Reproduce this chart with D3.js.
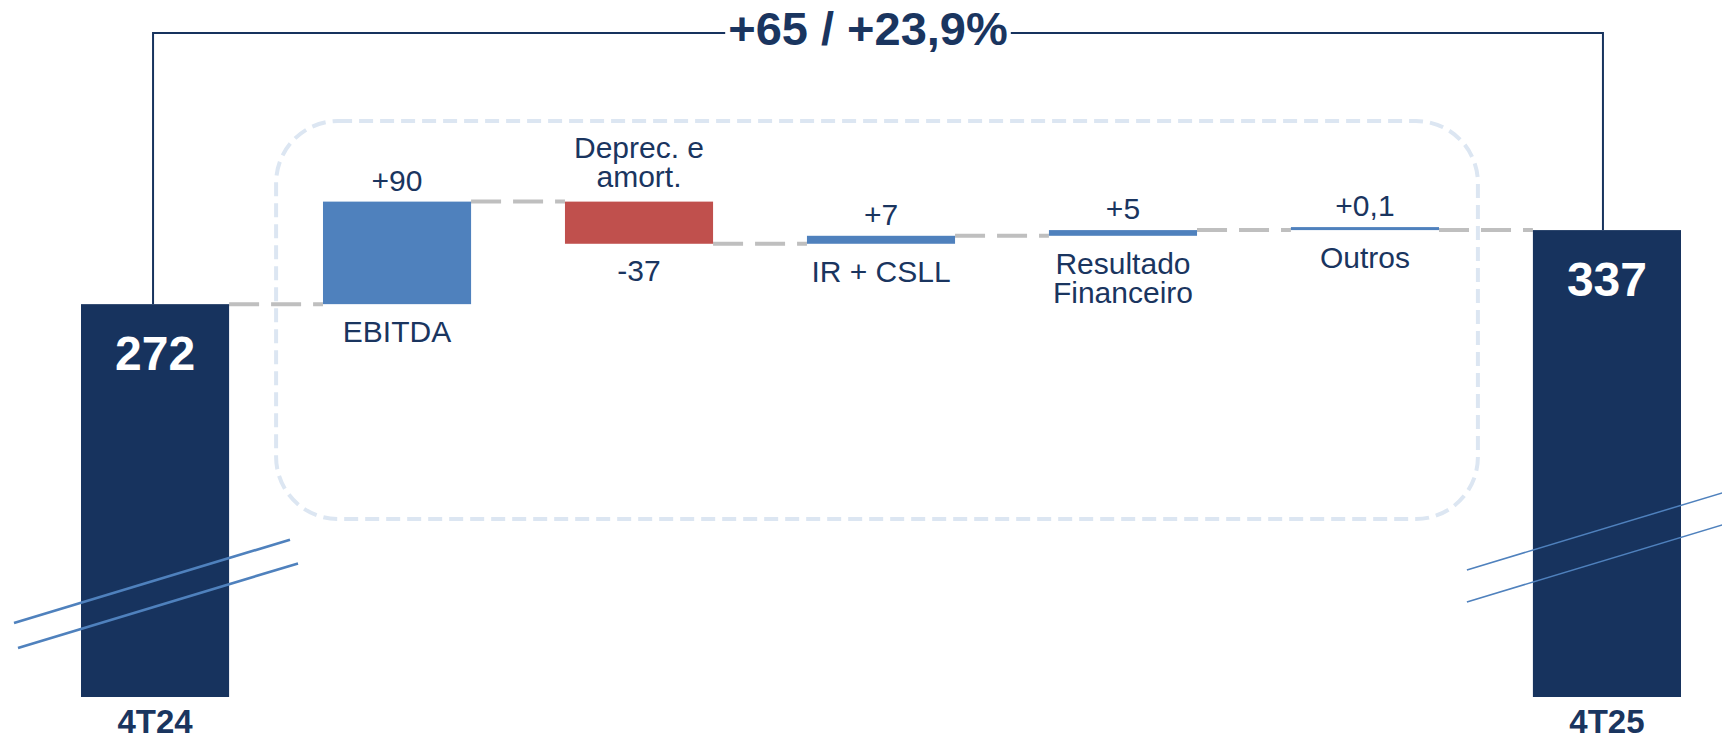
<!DOCTYPE html>
<html>
<head>
<meta charset="utf-8">
<script src="https://cdn.jsdelivr.net/npm/d3@7"></script>
<style>
  body { margin: 0; background: #fff; }
</style>
</head>
<body>
<script>
// Data (R$ mi)
const categories = ["4T24", "EBITDA", "Deprec. e amort.", "IR + CSLL", "Resultado Financeiro", "Outros", "4T25"];
const labelLines = [["4T24"], ["EBITDA"], ["Deprec. e", "amort."], ["IR + CSLL"], ["Resultado", "Financeiro"], ["Outros"], ["4T25"]];
const startValue = 272;
const endValue = 337;
const deltas = [90, -37, 7, 5, 0.1];

const width = 1722;
const height = 739;
const navy = "#17335e";
const textColor = "#1a355f";
const up = "#4f81bd";
const down = "#c0504d";
const font = "'Liberation Sans', Arial, sans-serif";

// build the waterfall rows
let run = startValue;
const rows = categories.map((c, i) => {
  if (i === 0) return {cat: c, i, type: "total", from: 0, to: startValue, value: startValue};
  if (i === categories.length - 1) return {cat: c, i, type: "total", from: 0, to: endValue, value: endValue};
  const v = deltas[i - 1];
  const r = {cat: c, i, type: v >= 0 ? "up" : "down", from: run, to: run + v, value: v};
  run += v;
  return r;
});

const loc = d3.formatLocale({decimal: ",", thousands: ".", grouping: [3], currency: ["R$", ""], minus: "-"});
const fmtDelta = loc.format("+~g");
const fmtPct = loc.format("+.1f");

// scales (y axis is broken below 230)
const x = d3.scaleBand()
  .domain(categories)
  .range([81, 1681])
  .paddingInner(0.388)
  .paddingOuter(0);

const y = d3.scaleLinear()
  .domain([0, 230, 370])
  .range([697, 352, 192.5]);

const svg = d3.select("body").append("svg")
  .attr("width", width)
  .attr("height", height)
  .attr("viewBox", [0, 0, width, height])
  .style("font-family", font);

const bw = x.bandwidth();
const cx = c => x(c) + bw / 2;

// dashed rounded frame round the drivers
svg.append("rect")
  .attr("x", x(categories[0]) + bw + 47)
  .attr("y", 121)
  .attr("width", (x(categories[6]) - 55) - (x(categories[0]) + bw + 47))
  .attr("height", 398)
  .attr("rx", 62)
  .attr("fill", "none")
  .attr("stroke", "#dce6f2")
  .attr("stroke-width", 4)
  .attr("stroke-dasharray", "14,7");

// bracket with the total variation
const diff = endValue - startValue;
const title = svg.append("text")
  .attr("x", (cx(categories[0]) + cx(categories[6])) / 2 - 13)
  .attr("y", 45)
  .attr("text-anchor", "middle")
  .attr("fill", textColor)
  .style("font-size", "47px")
  .style("font-weight", "bold")
  .text(`${fmtDelta(diff)} / ${fmtPct(diff / startValue * 100)}%`);
const tb = title.node().getBBox();
const bracketY = 33;
svg.append("path")
  .attr("fill", "none")
  .attr("stroke", navy)
  .attr("stroke-width", 2)
  .attr("d", `M${cx(categories[0]) - 2},${y(startValue)}V${bracketY}H${tb.x - 3}`
    + `M${tb.x + tb.width + 3},${bracketY}H${cx(categories[6]) - 4}V${y(endValue)}`);

// connectors between bars
const links = rows.slice(0, -1).map((d, i) => ({x1: x(d.cat) + bw, x2: x(rows[i + 1].cat), level: d.to}));
svg.append("g")
  .attr("stroke", "#bfbfbf")
  .attr("stroke-width", 4)
  .attr("stroke-dasharray", "30,12")
  .selectAll("line")
  .data(links)
  .join("line")
  .attr("x1", d => d.x1)
  .attr("x2", d => d.x2)
  .attr("y1", d => y(d.level))
  .attr("y2", d => y(d.level));

// bars
const barTop = d => {
  const t = Math.min(y(d.from), y(d.to));
  const b = Math.max(y(d.from), y(d.to));
  return b - t < 3 ? b - 3 : t;
};
const barBottom = d => Math.max(y(d.from), y(d.to));

svg.append("g")
  .selectAll("rect")
  .data(rows)
  .join("rect")
  .attr("x", d => x(d.cat))
  .attr("y", barTop)
  .attr("width", bw)
  .attr("height", d => barBottom(d) - barTop(d))
  .attr("fill", d => d.type === "total" ? navy : d.type === "up" ? up : down);

// axis break marks over the total bars
const breaks = [
  {cat: categories[0], dx0: -67, dx1: 209, y0: 623, gap: 25, shift: 4, w: 2.6},
  {cat: categories[6], dx0: -66, dx1: 260, y0: 570, gap: 32, shift: 0, w: 1.5}
];
const slope = -0.302;
svg.append("g")
  .attr("stroke", up)
  .selectAll("line")
  .data(breaks.flatMap(b => [0, 1].map(k => ({...b, k}))))
  .join("line")
  .attr("stroke-width", d => d.w)
  .attr("x1", d => x(d.cat) + d.dx0 + d.k * d.shift)
  .attr("y1", d => d.y0 + d.k * d.gap)
  .attr("x2", d => x(d.cat) + d.dx1 + d.k * d.shift * 2)
  .attr("y2", d => d.y0 + d.k * d.gap + slope * (d.dx1 - d.dx0 + d.k * d.shift));

// totals: value inside, bold category below
const totals = rows.filter(d => d.type === "total");
svg.append("g")
  .selectAll("text")
  .data(totals)
  .join("text")
  .attr("x", d => cx(d.cat))
  .attr("y", d => y(d.to) + 66)
  .attr("text-anchor", "middle")
  .attr("fill", "#fff")
  .style("font-size", "48px")
  .style("font-weight", "bold")
  .text(d => loc.format("~g")(d.value));

svg.append("g")
  .selectAll("text")
  .data(totals)
  .join("text")
  .attr("x", d => cx(d.cat))
  .attr("y", 733)
  .attr("text-anchor", "middle")
  .attr("fill", textColor)
  .style("font-size", "33px")
  .style("font-weight", "bold")
  .text(d => d.cat);

// drivers: value on the open side, category on the other
const drivers = rows.filter(d => d.type !== "total");
const lineH = 29;

svg.append("g")
  .selectAll("text")
  .data(drivers)
  .join("text")
  .attr("x", d => cx(d.cat))
  .attr("y", d => d.type === "up" ? barTop(d) - 11 : barBottom(d) + 37)
  .attr("text-anchor", "middle")
  .attr("fill", textColor)
  .style("font-size", "30px")
  .text(d => fmtDelta(d.value));

svg.append("g")
  .selectAll("text")
  .data(drivers)
  .join("text")
  .attr("x", d => cx(d.cat))
  .attr("y", d => {
    const n = labelLines[d.i].length;
    return d.type === "up" ? barBottom(d) + 38 : barTop(d) - 15 - (n - 1) * lineH;
  })
  .attr("text-anchor", "middle")
  .attr("fill", textColor)
  .style("font-size", "30px")
  .selectAll("tspan")
  .data(d => labelLines[d.i].map((t, k) => ({t, k, d})))
  .join("tspan")
  .attr("x", s => cx(s.d.cat))
  .attr("dy", s => s.k === 0 ? 0 : lineH)
  .text(s => s.t);
</script>
</body>
</html>
